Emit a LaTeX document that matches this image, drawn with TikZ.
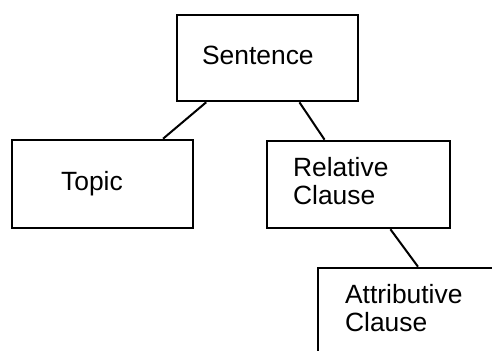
\documentclass[tikz,border=0pt]{standalone}
\usepackage{fontspec}
\setmainfont{Liberation Sans}
\usetikzlibrary{fit,calc}
\begin{document}
\begin{tikzpicture}[x=0.5pt,y=-0.5pt,
  box/.style={draw, line width=1.3pt, inner sep=0pt, rectangle},
  lbl/.style={anchor=north west, inner sep=0pt, align=left,
    font=\fontsize{13.2}{14.2}\selectfont},
  link/.style={draw, line width=1pt}]
\useasboundingbox (0,0) rectangle (492,351);

% boxes
\node[box, fit={(177,15) (358,101)}] (sent) {};
\node[box, fit={(12,140) (193,228)}] (topic) {};
\node[box, fit={(267,141) (450,228)}] (rel) {};
\node[box, fit={(318,268) (520,390)}] (attr) {};

% labels
\node[lbl] (sentT) at ($(sent.north west)+(26,32)$) {Sentence};
\node[lbl] (topicT) at ($(topic.north west)+(50,32)$) {Topic};
\node[lbl] (relT) at ($(rel.north west)+(27,17)$) {Relative\\Clause};
\node[lbl] (attrT) at ($(attr.north west)+(28,17)$) {Attributive\\Clause};

% tree links
\draw[link] ($(sent.south west)!0.166!(sent.south east)$) -- ($(topic.north west)!0.83!(topic.north east)$);
\draw[link] ($(sent.south west)!0.674!(sent.south east)$) -- ($(rel.north west)!0.317!(rel.north east)$);
\draw[link] ($(rel.south west)!0.672!(rel.south east)$) -- ($(attr.north west)!0.495!(attr.north east)$);
\end{tikzpicture}
\end{document}
